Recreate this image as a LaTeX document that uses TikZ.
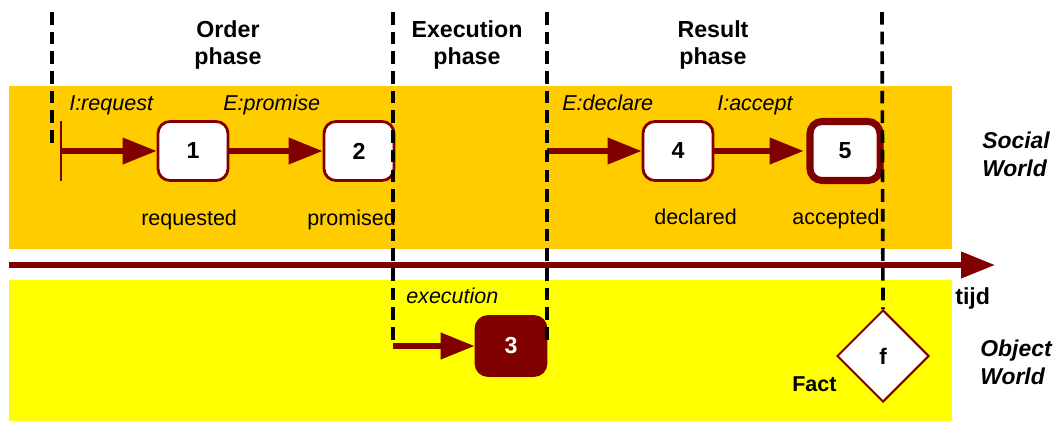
\documentclass[tikz,border=0pt]{standalone}
\usepackage{fontspec}
\setmainfont{Liberation Sans}
\usetikzlibrary{arrows.meta,shapes.geometric}

\definecolor{dred}{RGB}{128,0,0}
\definecolor{sorange}{RGB}{255,204,0}
\definecolor{oyellow}{RGB}{255,255,0}

\tikzset{
  act/.style={draw=dred,fill=white,line width=2pt,rounded corners=.3cm,
    minimum width=1.75cm,minimum height=1.475cm,inner sep=0pt,
    font=\fontsize{16.5}{16.5}\selectfont\bfseries},
  fact/.style={draw=dred,fill=white,diamond,line width=1.4pt,inner sep=0pt,
    minimum width=2.3cm,minimum height=2.3cm,
    font=\fontsize{16}{16}\selectfont\bfseries},
  arr/.style={dred,line width=3.8pt,-{Triangle[length=.85cm,width=.64cm]}},
  pline/.style={line width=2.6pt,dash pattern=on 9pt off 5pt},
  lbl/.style={inner sep=0pt,anchor=base west,font=\fontsize{15.3}{18}\selectfont},
  ilbl/.style={lbl,font=\fontsize{15.3}{18}\selectfont\itshape},
  hdr/.style={inner sep=0pt,align=center,font=\fontsize{16.5}{19.2}\selectfont\bfseries},
  world/.style={inner sep=0pt,align=left,font=\fontsize{16.3}{20}\selectfont\bfseries\itshape}
}

\begin{document}
\begin{tikzpicture}[x=.025cm,y=-.025cm]
      \pgfmathsetmacro{\ys}{151}
      \pgfmathsetmacro{\yo}{346}
      \pgfmathsetmacro{\yt}{12}

      \useasboundingbox (0,0) rectangle (1058,423);

      % the two worlds
      \fill[sorange] (9,86) rectangle (952,249);
      \fill[oyellow] (9,280) rectangle (952,421);

      % time
      \coordinate (T0) at (9,265);
      \coordinate (T1) at (995,265);
      \draw[arr] (T0) -- (T1);
      \node[lbl,font=\fontsize{16.5}{19}\selectfont\bfseries] (tijd) at (955,304) {tijd};

      % phases
      \node[hdr] (H1) at (228,45) {Order\\phase};
      \node[hdr] (H2) at (467,45) {Execution\\phase};
      \node[hdr] (H3) at (713,45) {Result\\phase};

      \node[world] (SW) at (1016,154) {Social\\World};
      \node[world] (OW) at (1016,362) {Object\\World};

      % acts
      \node[act] (A1) at (193,\ys) {1};
      \node[act] (A2) at (359,\ys) {2};
      \node[act] (A4) at (678,\ys) {4};
      \node[act,line width=5pt] (A5) at (845,\ys) {5};
      \node[act,fill=dred,text=white] (A3) at (511,\yo) {3};
      \node[fact] (F) at (883,356) {f};

      \node[ilbl] (L1) at (69,110) {I:request};
      \node[ilbl] (L2) at (223,110) {E:promise};
      \node[ilbl] (L4) at (562,110) {E:declare};
      \node[ilbl] (L5) at (717,110) {I:accept};
      \node[ilbl] (L3) at (406,303) {execution};

      \node[lbl] (R1) at (141,225) {requested};
      \node[lbl] (R2) at (307,225) {promised};
      \node[lbl] (R4) at (654,224) {declared};
      \node[lbl] (R5) at (792,224) {accepted};
      \node[lbl,font=\fontsize{15.3}{18}\selectfont\bfseries] (RF) at (792,391) {Fact};

      % transitions
      \coordinate (S0) at (61,\ys);
      \coordinate (C2) at (393,\yo);
      \coordinate (C3) at (547,\ys);
      \draw[dred,line width=2pt] (S0) ++(0,-30) -- ++(0,60);
      \draw[arr] (S0) -- (A1);
      \draw[arr] (A1) -- (A2);
      \draw[arr] (C2) -- (A3);
      \draw[arr] (C3) -- (A4);
      \draw[arr,shorten >=2pt] (A4) -- (A5);

      % phase borders
      \coordinate (P1) at (52,\yt);
      \coordinate (P2) at (393,\yt);
      \coordinate (P3) at (547,\yt);
      \coordinate (P4) at (882,\yt);
      \coordinate (E1) at (52,145);
      \coordinate (E3) at (547,342);
      \draw[pline] (P1) -- (E1);
      \draw[pline] (P2) -- (C2);
      \draw[pline] (P3) -- (E3);
      \draw[pline] (P4) -- (F.north);
    \end{tikzpicture}
\end{document}
